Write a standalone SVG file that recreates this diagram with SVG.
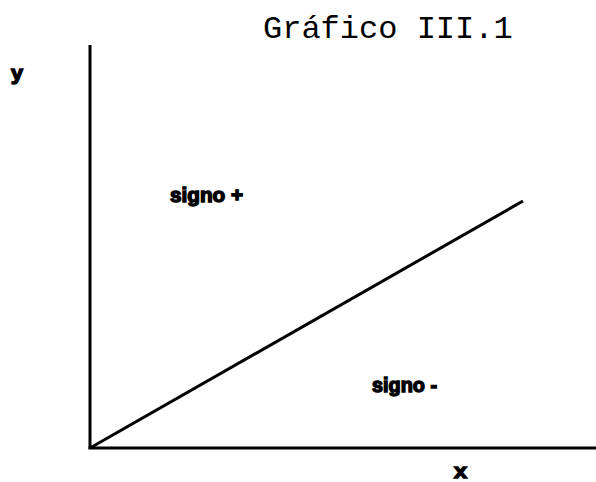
<svg xmlns="http://www.w3.org/2000/svg" width="596" height="482" viewBox="0 0 596 482">
<style>
.lbl{font-family:"Liberation Sans",Arial,sans-serif;font-weight:bold;font-size:20px;fill:#000;stroke:#000;stroke-width:1.4}
.title{font-family:"Liberation Mono","Courier New",monospace;font-size:32px;fill:#000}
.ax{stroke:#000;stroke-width:3;fill:none}
</style>
<rect width="596" height="482" fill="#fff"/>
<text class="title" x="263" y="38">Gráfico III.1</text>
<g id="connectors">
<line class="ax" x1="90" y1="45" x2="90" y2="449"/>
<line class="ax" x1="88.5" y1="448" x2="596" y2="448"/>
<line class="ax" x1="90" y1="448" x2="523" y2="201"/>
</g>
<g id="label-y"><text class="lbl" x="11" y="80" textLength="12" lengthAdjust="spacingAndGlyphs">y</text></g>
<g id="label-x"><text class="lbl" x="454" y="478" textLength="13" lengthAdjust="spacingAndGlyphs">x</text></g>
<g id="signo-plus"><text class="lbl" x="170" y="202" textLength="73" lengthAdjust="spacingAndGlyphs">signo +</text></g>
<g id="signo-minus"><text class="lbl" x="372" y="392" textLength="65" lengthAdjust="spacingAndGlyphs">signo -</text></g>
</svg>
